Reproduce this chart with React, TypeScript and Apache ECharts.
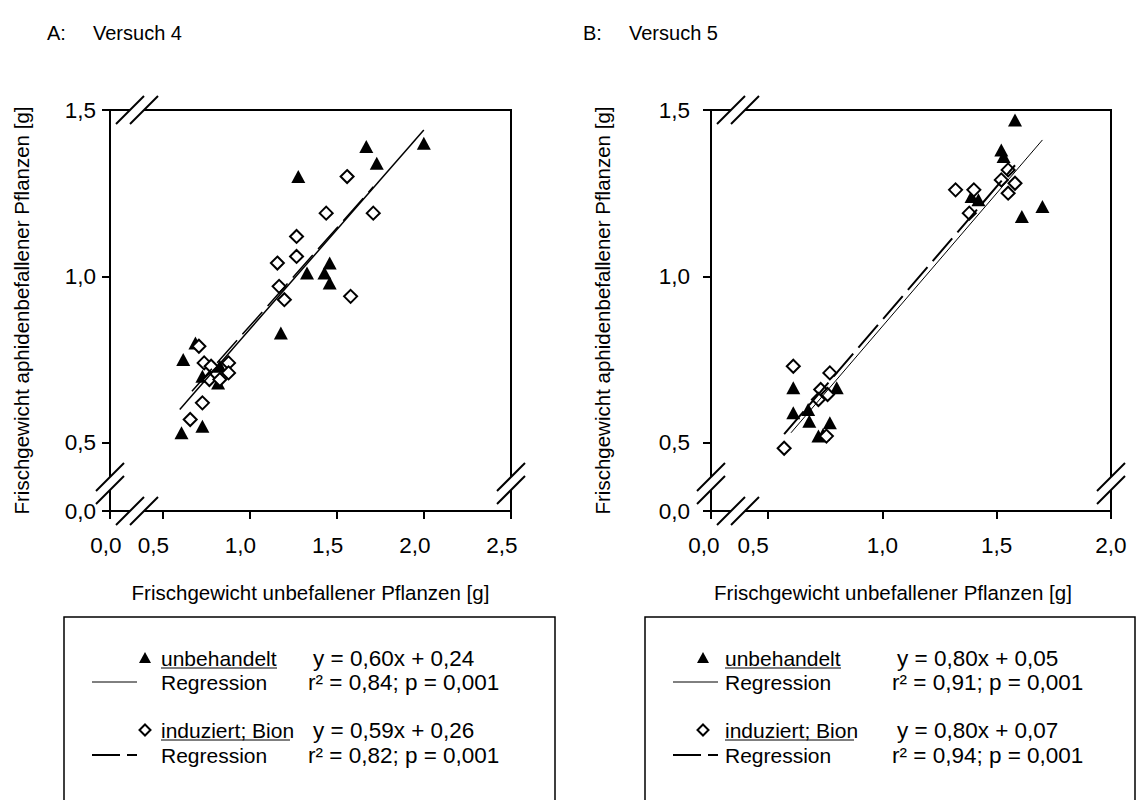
import React, { useEffect, useRef } from "react";
import * as echarts from "echarts";

// ---------- data ----------
const xTicksA = [0.0, 0.5, 1.0, 1.5, 2.0, 2.5];
const xTicksB = [0.0, 0.5, 1.0, 1.5, 2.0];
const yTicks = [0.0, 0.5, 1.0, 1.5];

// Versuch 4
const aUnbehandelt: [number, number][] = [
  [1.67, 1.39], [2.0, 1.4], [1.73, 1.34], [1.28, 1.3], [1.46, 1.04], [1.33, 1.01],
  [1.43, 1.01], [1.46, 0.98], [1.18, 0.83], [0.69, 0.8], [0.62, 0.75], [0.73, 0.7],
  [0.83, 0.73], [0.82, 0.68], [0.61, 0.53], [0.73, 0.55],
];
const aBion: [number, number][] = [
  [1.56, 1.3], [1.44, 1.19], [1.71, 1.19], [1.27, 1.12], [1.27, 1.06], [1.16, 1.04],
  [1.17, 0.97], [1.2, 0.93], [1.58, 0.94], [0.71, 0.79], [0.74, 0.74], [0.78, 0.73],
  [0.88, 0.74], [0.88, 0.71], [0.77, 0.69], [0.83, 0.69], [0.73, 0.62], [0.66, 0.57],
];
const aRegUnbehandelt: [number, number][] = [[0.6, 0.6], [2.0, 1.44]];
const aRegBion: [number, number][] = [[0.67, 0.655], [1.71, 1.269]];

// Versuch 5
const bUnbehandelt: [number, number][] = [
  [1.58, 1.47], [1.52, 1.38], [1.53, 1.36], [1.39, 1.24], [1.42, 1.23], [1.61, 1.18],
  [1.7, 1.21], [0.61, 0.665], [0.8, 0.665], [0.61, 0.59], [0.675, 0.6], [0.68, 0.565],
  [0.77, 0.56], [0.72, 0.52], [0.74, 0.525],
];
const bBion: [number, number][] = [
  [1.32, 1.26], [1.4, 1.26], [1.55, 1.32], [1.52, 1.29], [1.58, 1.28], [1.55, 1.25],
  [1.38, 1.19], [0.61, 0.73], [0.77, 0.71], [0.73, 0.66], [0.76, 0.645], [0.72, 0.63],
  [0.755, 0.52], [0.57, 0.46],
];
const bRegUnbehandelt: [number, number][] = [[0.6, 0.53], [1.7, 1.41]];
const bRegBion: [number, number][] = [[0.57, 0.526], [1.58, 1.334]];

const titlesLetter = ["A:", "B:"];
const titlesText = ["Versuch 4", "Versuch 5"];
const xName = "Frischgewicht unbefallener Pflanzen [g]";
const yName = "Frischgewicht aphidenbefallener Pflanzen [g]";
const legendSeries = ["unbehandelt", "induziert; Bion"];
const legendRegression = "Regression";
const eqA = ["y = 0,60x + 0,24", "y = 0,59x + 0,26"];
const rA = ["r² = 0,84; p = 0,001", "r² = 0,82; p = 0,001"];
const eqB = ["y = 0,80x + 0,05", "y = 0,80x + 0,07"];
const rB = ["r² = 0,91; p = 0,001", "r² = 0,94; p = 0,001"];

// ---------- layout ----------
const FONT = "'Liberation Sans', Arial, Helvetica, sans-serif";
const FS = 21; // legend labels
const EFS = 22.5; // equations
const NFS = 20.5; // axis names
const TTFS = 20; // panel titles
const TFS = 22.5; // tick labels
const grids = [
  { left: 110, top: 110, width: 401, height: 401 },
  { left: 711, top: 110, width: 400, height: 401 },
];
// leftward shift (px) of each x tick label, as placed in the reference
const xLabelShiftA = [4, 9, 9, 9, 9, 9];
const xLabelShiftB = [7, 15, 0, 0, 0];

// compressed segment 0 .. 0.5 (axis break)
function brk(k: number) {
  return {
    fwd: (v: number) => (v >= 0.5 ? v : 0.5 - (0.5 - v) * k),
    inv: (t: number) => (t >= 0.5 ? t : 0.5 - (0.5 - t) / k),
  };
}
const txA = brk(0.6);
const txB = brk(0.5);
const ty = brk(0.41);

const fmt = (v: number) => (Math.round(v * 10) / 10).toFixed(1).replace(".", ",");

function makeX(gridIndex: number, tr: any, ticks: number[], shifts: number[], padRight: number) {
  const vals = ticks.map(tr.fwd);
  const rich: any = {};
  shifts.forEach((s, i) => {
    rich["s" + i] = { fontSize: TFS, fontFamily: FONT, color: "#000", padding: [0, 2 * s, 0, 0] };
  });
  return {
    type: "value",
    gridIndex,
    min: tr.fwd(ticks[0]),
    max: tr.fwd(ticks[ticks.length - 1]),
    axisLine: { show: true, onZero: false, lineStyle: { color: "#000", width: 2 } },
    axisTick: { show: true, inside: false, length: 8, customValues: vals, lineStyle: { color: "#000", width: 2 } },
    axisLabel: {
      customValues: vals,
      formatter: (v: number) => {
        const real = tr.inv(v);
        let idx = 0;
        ticks.forEach((t, i) => {
          if (Math.abs(t - real) < Math.abs(ticks[idx] - real)) idx = i;
        });
        return `{s${idx}|${fmt(real)}}`;
      },
      rich,
      color: "#000",
      fontSize: TFS,
      fontFamily: FONT,
      margin: 23,
    },
    splitLine: { show: false },
    name: xName,
    nameLocation: "middle",
    nameGap: 71,
    nameTextStyle: { color: "#000", fontSize: NFS, fontFamily: FONT, padding: [0, padRight, 0, 0] },
  };
}

function makeY(gridIndex: number, margin: number, nameGap: number) {
  const vals = yTicks.map(ty.fwd);
  return {
    type: "value",
    gridIndex,
    min: ty.fwd(0),
    max: 1.5,
    axisLine: { show: true, onZero: false, lineStyle: { color: "#000", width: 2 } },
    axisTick: { show: true, inside: false, length: 8, customValues: vals, lineStyle: { color: "#000", width: 2 } },
    axisLabel: {
      customValues: vals,
      formatter: (v: number) => fmt(ty.inv(v)),
      color: "#000",
      fontSize: TFS,
      fontFamily: FONT,
      margin,
    },
    splitLine: { show: false },
    name: yName,
    nameLocation: "middle",
    nameRotate: 90,
    nameGap,
    nameTextStyle: { color: "#000", fontSize: NFS, fontFamily: FONT },
  };
}

function slash(x1: number, y1: number, x2: number, y2: number) {
  return {
    type: "line",
    shape: { x1, y1, x2, y2 },
    style: { stroke: "#000", lineWidth: 2 },
    z: 110,
  };
}

function breakMarks(g: { left: number; top: number; width: number; height: number }) {
  const x0 = g.left;
  const y0 = g.top + g.height;
  const xr = g.left + g.width;
  const yt = g.top;
  const cx = x0 + 27;
  const cy = y0 - 27.5;
  const els: any[] = [];
  for (const yy of [y0, yt]) {
    els.push({ type: "rect", shape: { x: cx - 7, y: yy - 2, width: 14, height: 4 }, style: { fill: "#fff" }, z: 105 });
    for (const c of [cx - 7, cx + 7]) els.push(slash(c - 14, yy + 14, c + 14, yy - 14));
  }
  for (const xx of [x0, xr]) {
    els.push({ type: "rect", shape: { x: xx - 2, y: cy - 6.5, width: 4, height: 13 }, style: { fill: "#fff" }, z: 105 });
    for (const c of [cy - 6.5, cy + 6.5]) els.push(slash(xx - 14, c + 14, xx + 14, c - 14));
  }
  return els;
}

function txt(text: string, x: number, y: number, size: number = FS) {
  return {
    type: "text",
    x,
    y,
    style: { text, fill: "#000", font: `${size}px ${FONT}`, textVerticalAlign: "middle", textAlign: "left" },
    z: 120,
  };
}

function legendBox(opts: {
  left: number; top: number; width: number;
  sym: number; lineX1: number; lineX2: number; textX: number; eqX: number; rX: number;
  eq: string[]; r: string[]; ulW: number[];
}) {
  const rows = [658, 682, 730, 755];
  const { sym, lineX1, lineX2 } = opts;
  return [
    {
      type: "rect",
      shape: { x: opts.left, y: opts.top, width: opts.width, height: 240 },
      style: { fill: "none", stroke: "#000", lineWidth: 1.5 },
      z: 100,
    },
    {
      type: "polygon",
      shape: { points: [[sym - 6, rows[0] + 5], [sym + 6, rows[0] + 5], [sym, rows[0] - 6]] },
      style: { fill: "#000" },
      z: 120,
    },
    txt(legendSeries[0], opts.textX, rows[0]),
    { type: "line", shape: { x1: opts.textX, y1: rows[0] + 10, x2: opts.textX + opts.ulW[0], y2: rows[0] + 10 }, style: { stroke: "#000", lineWidth: 1 }, z: 120 },
    txt(opts.eq[0], opts.eqX, rows[0], EFS),
    { type: "line", shape: { x1: lineX1, y1: rows[1], x2: lineX2, y2: rows[1] }, style: { stroke: "#000", lineWidth: 1 }, z: 120 },
    txt(legendRegression, opts.textX, rows[1]),
    txt(opts.r[0], opts.rX, rows[1], EFS),
    {
      type: "polygon",
      shape: { points: [[sym, rows[2] - 5.5], [sym + 5.5, rows[2]], [sym, rows[2] + 5.5], [sym - 5.5, rows[2]]] },
      style: { fill: "#fff", stroke: "#000", lineWidth: 2 },
      z: 120,
    },
    txt(legendSeries[1], opts.textX, rows[2]),
    { type: "line", shape: { x1: opts.textX, y1: rows[2] + 10, x2: opts.textX + opts.ulW[1], y2: rows[2] + 10 }, style: { stroke: "#000", lineWidth: 1 }, z: 120 },
    txt(opts.eq[1], opts.eqX, rows[2], EFS),
    { type: "line", shape: { x1: lineX1, y1: rows[3], x2: lineX1 + 28, y2: rows[3] }, style: { stroke: "#000", lineWidth: 2 }, z: 120 },
    { type: "line", shape: { x1: lineX2 - 10, y1: rows[3], x2: lineX2, y2: rows[3] }, style: { stroke: "#000", lineWidth: 2 }, z: 120 },
    txt(legendRegression, opts.textX, rows[3]),
    txt(opts.r[1], opts.rX, rows[3], EFS),
  ];
}

function scatterTri(xi: number, data: [number, number][], tr: any) {
  return {
    type: "scatter",
    xAxisIndex: xi,
    yAxisIndex: xi,
    data: data.map(([x, y]) => [tr.fwd(x), ty.fwd(y)]),
    symbol: "triangle",
    symbolSize: [14, 13],
    itemStyle: { color: "#000", opacity: 1 },
    z: 3,
  };
}
function scatterDia(xi: number, data: [number, number][], tr: any) {
  return {
    type: "scatter",
    xAxisIndex: xi,
    yAxisIndex: xi,
    data: data.map(([x, y]) => [tr.fwd(x), ty.fwd(y)]),
    symbol: "diamond",
    symbolSize: [13, 13],
    itemStyle: { color: "#fff", borderColor: "#000", borderWidth: 2, opacity: 1 },
    z: 4,
  };
}
function regLine(xi: number, data: [number, number][], tr: any, width: number, dashed: boolean) {
  return {
    type: "line",
    xAxisIndex: xi,
    yAxisIndex: xi,
    data: data.map(([x, y]) => [tr.fwd(x), ty.fwd(y)]),
    symbol: "none",
    silent: true,
    lineStyle: { color: "#000", width, type: dashed ? [30, 8] : "solid", opacity: 1 },
    z: 5,
  };
}

export default function App() {
  const ref = useRef<HTMLDivElement>(null);
  useEffect(() => {
    if (!ref.current) return;
    const chart = echarts.init(ref.current, undefined, { renderer: "svg" });
    const graphic: any[] = [
      txt(titlesLetter[0], 47, 33, TTFS),
      txt(titlesText[0], 93, 33, TTFS),
      txt(titlesLetter[1], 583, 33, TTFS),
      txt(titlesText[1], 629, 33, TTFS),
      ...breakMarks(grids[0]),
      ...breakMarks(grids[1]),
      ...legendBox({
        left: 64, top: 617, width: 491, sym: 145, lineX1: 92, lineX2: 137, textX: 161, eqX: 313, rX: 308,
        eq: eqA, r: rA, ulW: [116, 129],
      }),
      ...legendBox({
        left: 645, top: 617, width: 490, sym: 703, lineX1: 673, lineX2: 718, textX: 725, eqX: 897, rX: 892,
        eq: eqB, r: rB, ulW: [116, 129],
      }),
    ];
    chart.setOption({
      animation: false,
      backgroundColor: "#fff",
      textStyle: { fontFamily: FONT },
      grid: grids.map((g) => ({ ...g, show: true, borderColor: "#000", borderWidth: 2, backgroundColor: "transparent" })),
      xAxis: [makeX(0, txA, xTicksA, xLabelShiftA, 0), makeX(1, txB, xTicksB, xLabelShiftB, 36)],
      yAxis: [makeY(0, 14, 78), makeY(1, 21, 98)],
      series: [
        scatterTri(0, aUnbehandelt, txA),
        scatterDia(0, aBion, txA),
        regLine(0, aRegUnbehandelt, txA, 1.5, false),
        regLine(0, aRegBion, txA, 1.5, true),
        scatterTri(1, bUnbehandelt, txB),
        scatterDia(1, bBion, txB),
        regLine(1, bRegUnbehandelt, txB, 1, false),
        regLine(1, bRegBion, txB, 2, true),
      ],
      graphic,
    });
    return () => chart.dispose();
  }, []);
  return (
    <div
      ref={ref}
      style={{ position: "fixed", left: 0, top: 0, width: 1136, height: 800, background: "#fff" }}
    />
  );
}
